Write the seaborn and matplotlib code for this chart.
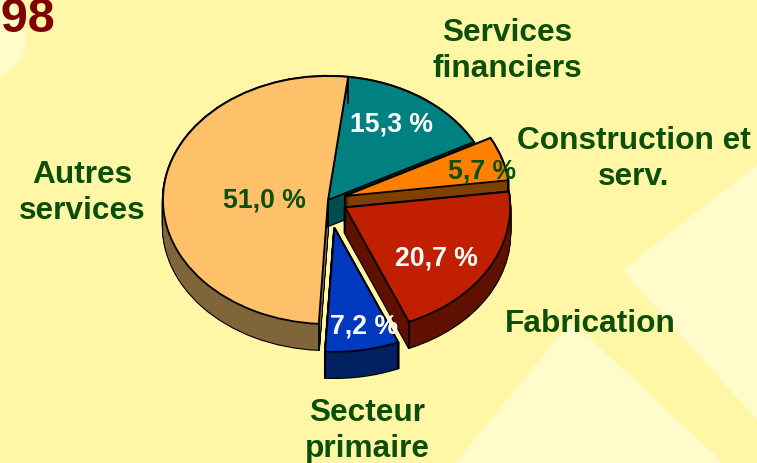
import matplotlib
matplotlib.use('Agg')
import matplotlib.pyplot as plt
import numpy as np
import seaborn as sns
from matplotlib.patches import Circle, Polygon
from matplotlib.transforms import Affine2D

# Chart data
categories = ['Services\nfinanciers', 'Construction et\nserv.', 'Fabrication', 'Secteur\nprimaire', 'Autres\nservices']
values = [15.3, 5.7, 20.7, 7.2, 51.0]
value_labels = ['15,3 %', '5,7 %', '20,7 %', '7,2 %', '51,0 %']
explode = [0, 0.105, 0.12, 0.228, 0]
title_text = '1998'

top_colors = ['#008080', '#FF8000', '#C02000', '#0038C0', '#FFC06A']
wall_colors = ['#004D4D', '#804000', '#601000', '#002060', '#80643A']
label_colors = ['white', '#0B4F0B', 'white', 'white', '#0B4F0B']

WIDTH, HEIGHT = 757, 464
CX, CY = 328, 201       # pie centre in pixels
RX, RY = 165, 124       # pixels per unit, this squashes the pie
DEPTH = 0.21
BG = '#FFF6A6'
PALE = '#FFFBCB'
GREEN = '#0B4F0B'

sns.set_theme(style='white')
plt.rcParams['font.family'] = ['Liberation Sans', 'DejaVu Sans']

fig = plt.figure(figsize=(WIDTH / 100, HEIGHT / 100), dpi=100, facecolor=BG)
ax = fig.add_axes([0, 0, 1, 1], facecolor='none')

# pale shapes of the slide background, in pixels from the top left
px = Affine2D().scale(1 / WIDTH, -1 / HEIGHT).translate(0, 1) + fig.transFigure
for pts in [[(632, 272), (770, 165), (770, 425)], [(572, 332), (455, 475), (725, 475)]]:
    fig.add_artist(Polygon(pts, closed=True, transform=px, facecolor=PALE, edgecolor=PALE,
                           lw=10, joinstyle='round', zorder=-1))
fig.add_artist(Circle((-18, 38), 44, transform=px, facecolor=PALE, edgecolor='none', zorder=-1))

# drawing order of the slices, Autres walls go behind everything
wall_z = [2, 3, 4, 6, 1]
top_z = [2, 3, 4, 6, 5]


def draw_pie(offset, colors, **props):
    wedges, _ = ax.pie(values, explode=explode, startangle=83, counterclock=False,
                       center=(0, -offset), colors=colors, wedgeprops=props)
    return wedges


# extrusion: outlined stack first, plain stack on top leaves only the silhouette
for d in np.linspace(DEPTH, 0, 28):
    for w, z in zip(draw_pie(d, wall_colors, edgecolor='black', linewidth=1.6), wall_z):
        w.set_zorder(z)
for d in np.linspace(DEPTH, 0, 28):
    for w, z in zip(draw_pie(d, wall_colors, edgecolor='none', linewidth=0), wall_z):
        w.set_zorder(z + 0.1)

tops = draw_pie(0, top_colors, edgecolor='black', linewidth=1.3)
for w, z in zip(tops, top_z):
    w.set_zorder(z + 0.3)
    # vertical edges of the walls
    cx, cy = w.center
    xs = [cx, cx + np.cos(np.radians(w.theta1)), cx + np.cos(np.radians(w.theta2))]
    ys = [cy, cy + np.sin(np.radians(w.theta1)), cy + np.sin(np.radians(w.theta2))]
    for x, y in zip(xs, ys):
        ax.plot([x, x], [y, y - DEPTH], color='black', lw=1.3, zorder=z + 0.2)

ax.set_aspect('auto')
ax.set_xlim(-CX / RX, (WIDTH - CX) / RX)
ax.set_ylim((CY - HEIGHT) / RY, CY / RY)
ax.axis('off')

# slice names and values
name_pos = [(507, 51), (634, 159), (590, 324), (367, 431), (82, 193)]
value_pos = [(392, 125), (482, 172), (436, 259), (364, 327), (264, 201)]
for name, (x, y) in zip(categories, name_pos):
    ax.text(x, y, name, transform=px, ha='center', va='center', color=GREEN, fontsize=22.8,
            fontweight='bold', linespacing=1.25, zorder=10)
for lab, col, (x, y) in zip(value_labels, label_colors, value_pos):
    ax.text(x, y, lab, transform=px, ha='center', va='center', color=col, fontsize=19.2,
            fontweight='bold', zorder=10)

ax.text(55, 32, title_text, transform=px, ha='right', va='baseline', color='#800000',
        fontsize=35, fontweight='bold', zorder=10)

fig.savefig('out.png', dpi=100, facecolor=fig.get_facecolor())
